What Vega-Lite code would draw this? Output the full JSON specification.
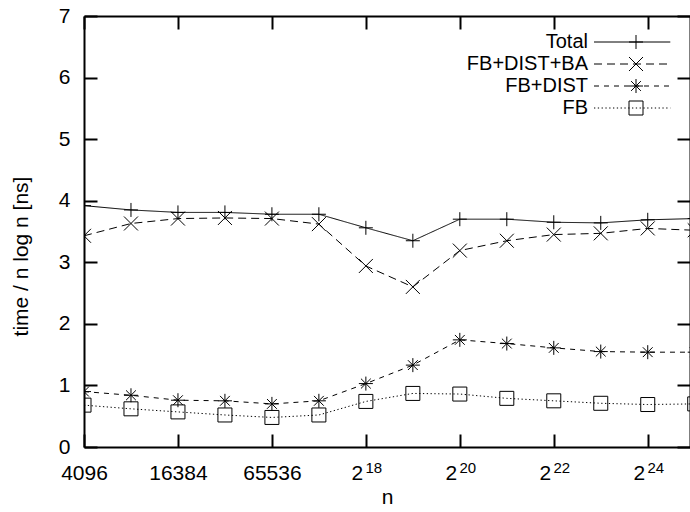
{
  "$schema": "https://vega.github.io/schema/vega-lite/v6.json",
  "width": 606,
  "height": 431,
  "autosize": {"type": "none"},
  "padding": {"left": 84, "top": 16, "right": 0, "bottom": 65},
  "background": "white",
  "config": {
    "font": "Liberation Sans",
    "view": {"stroke": null},
    "axis": {
      "grid": false,
      "domainColor": "black",
      "tickColor": "black",
      "labelColor": "black",
      "titleColor": "black",
      "domainWidth": 2,
      "tickWidth": 2,
      "labelFontSize": 21,
      "titleFontSize": 21,
      "titleFontWeight": "normal",
      "labelOverlap": false
    }
  },
  "data": {
    "values": [
      {"n": 4096, "series": "Total", "t": 3.92},
      {"n": 8192, "series": "Total", "t": 3.85},
      {"n": 16384, "series": "Total", "t": 3.81},
      {"n": 32768, "series": "Total", "t": 3.81},
      {"n": 65536, "series": "Total", "t": 3.78},
      {"n": 131072, "series": "Total", "t": 3.78},
      {"n": 262144, "series": "Total", "t": 3.56},
      {"n": 524288, "series": "Total", "t": 3.35},
      {"n": 1048576, "series": "Total", "t": 3.70},
      {"n": 2097152, "series": "Total", "t": 3.70},
      {"n": 4194304, "series": "Total", "t": 3.65},
      {"n": 8388608, "series": "Total", "t": 3.64},
      {"n": 16777216, "series": "Total", "t": 3.69},
      {"n": 33554432, "series": "Total", "t": 3.71},
      {"n": 4096, "series": "FB+DIST+BA", "t": 3.43},
      {"n": 8192, "series": "FB+DIST+BA", "t": 3.63},
      {"n": 16384, "series": "FB+DIST+BA", "t": 3.71},
      {"n": 32768, "series": "FB+DIST+BA", "t": 3.72},
      {"n": 65536, "series": "FB+DIST+BA", "t": 3.71},
      {"n": 131072, "series": "FB+DIST+BA", "t": 3.62},
      {"n": 262144, "series": "FB+DIST+BA", "t": 2.94},
      {"n": 524288, "series": "FB+DIST+BA", "t": 2.60},
      {"n": 1048576, "series": "FB+DIST+BA", "t": 3.19},
      {"n": 2097152, "series": "FB+DIST+BA", "t": 3.35},
      {"n": 4194304, "series": "FB+DIST+BA", "t": 3.45},
      {"n": 8388608, "series": "FB+DIST+BA", "t": 3.47},
      {"n": 16777216, "series": "FB+DIST+BA", "t": 3.55},
      {"n": 33554432, "series": "FB+DIST+BA", "t": 3.52},
      {"n": 4096, "series": "FB+DIST", "t": 0.90},
      {"n": 8192, "series": "FB+DIST", "t": 0.84},
      {"n": 16384, "series": "FB+DIST", "t": 0.76},
      {"n": 32768, "series": "FB+DIST", "t": 0.75},
      {"n": 65536, "series": "FB+DIST", "t": 0.70},
      {"n": 131072, "series": "FB+DIST", "t": 0.75},
      {"n": 262144, "series": "FB+DIST", "t": 1.03},
      {"n": 524288, "series": "FB+DIST", "t": 1.33},
      {"n": 1048576, "series": "FB+DIST", "t": 1.74},
      {"n": 2097152, "series": "FB+DIST", "t": 1.68},
      {"n": 4194304, "series": "FB+DIST", "t": 1.61},
      {"n": 8388608, "series": "FB+DIST", "t": 1.55},
      {"n": 16777216, "series": "FB+DIST", "t": 1.54},
      {"n": 33554432, "series": "FB+DIST", "t": 1.54},
      {"n": 4096, "series": "FB", "t": 0.68},
      {"n": 8192, "series": "FB", "t": 0.62},
      {"n": 16384, "series": "FB", "t": 0.57},
      {"n": 32768, "series": "FB", "t": 0.52},
      {"n": 65536, "series": "FB", "t": 0.48},
      {"n": 131072, "series": "FB", "t": 0.52},
      {"n": 262144, "series": "FB", "t": 0.74},
      {"n": 524288, "series": "FB", "t": 0.87},
      {"n": 1048576, "series": "FB", "t": 0.86},
      {"n": 2097152, "series": "FB", "t": 0.79},
      {"n": 4194304, "series": "FB", "t": 0.75},
      {"n": 8388608, "series": "FB", "t": 0.71},
      {"n": 16777216, "series": "FB", "t": 0.69},
      {"n": 33554432, "series": "FB", "t": 0.70}
    ]
  },
  "layer": [
    {
      "mark": {"type": "line", "clip": true, "color": "black", "strokeWidth": 1},
      "encoding": {
        "x": {
          "field": "n",
          "type": "quantitative",
          "scale": {"type": "log", "base": 2, "domain": [4096, 31300000], "nice": false},
          "axis": {
            "orient": "bottom",
            "values": [4096, 16384, 65536, 262144, 1048576, 4194304, 16777216],
            "labelExpr": "datum.value > 100000 ? '2' : format(datum.value, 'd')",
            "labelOffset": {"condition": {"test": "datum.value > 100000", "value": -9}, "value": 0},
            "tickSize": -13,
            "labelPadding": 28,
            "labelFlush": false,
            "title": "n",
            "titleY": 56,
            "titleBaseline": "alphabetic"
          }
        },
        "y": {
          "field": "t",
          "type": "quantitative",
          "scale": {"domain": [0, 7], "nice": false, "zero": false},
          "axis": {
            "orient": "left",
            "values": [0, 1, 2, 3, 4, 5, 6, 7],
            "tickSize": -13,
            "labelPadding": 27,
            "title": "time / n log n [ns]",
            "titleX": -57,
            "titleY": 240,
            "titleAngle": -90,
            "titleAlign": "center",
            "titleBaseline": "alphabetic"
          }
        },
        "strokeDash": {
          "field": "series",
          "type": "nominal",
          "sort": "descending",
          "scale": {"range": [[1, 0], [8, 5], [5, 5], [1.3, 2.5]]},
          "legend": {
            "orient": "none",
            "legendX": 542,
            "legendY": 16,
            "title": null,
            "symbolType": "M-6,0H4.9",
            "symbolSize": 196,
            "symbolStrokeColor": "black",
            "symbolStrokeWidth": 1,
            "labelAlign": "right",
            "labelOffset": -58,
            "labelFontSize": 20,
            "labelColor": "black",
            "padding": 0,
            "rowPadding": 2
          }
        }
      }
    },
    {
      "mark": {"type": "point", "clip": true, "filled": false, "color": "black", "opacity": 1, "strokeWidth": 1, "size": 196},
      "encoding": {
        "x": {
          "field": "n",
          "type": "quantitative",
          "axis": {"orient": "top", "labels": false, "title": null, "tickSize": -13, "values": [4096, 16384, 65536, 262144, 1048576, 4194304, 16777216]}
        },
        "y": {
          "field": "t",
          "type": "quantitative",
          "axis": {"orient": "right", "labels": false, "title": null, "tickSize": -13, "values": [0, 1, 2, 3, 4, 5, 6, 7]}
        },
        "shape": {
          "field": "series",
          "type": "nominal",
          "scale": {
            "domain": ["Total", "FB+DIST+BA", "FB+DIST", "FB"],
            "range": [
              "M-1,0H1M0,-1V1",
              "M-1,-1L1,1M-1,1L1,-1",
              "M-1,0H1M0,-1V1M-0.7,-0.7L0.7,0.7M-0.7,0.7L0.7,-0.7",
              "square"
            ]
          },
          "legend": {
            "orient": "none",
            "legendX": 542,
            "legendY": 16,
            "title": null,
            "symbolSize": 196,
            "symbolStrokeColor": "black",
            "symbolFillColor": "transparent",
            "symbolStrokeWidth": 1,
            "symbolOpacity": 1,
            "labelOpacity": 0,
            "labelAlign": "right",
            "labelOffset": -58,
            "labelFontSize": 20,
            "padding": 0,
            "rowPadding": 2
          }
        }
      }
    },
    {
      "mark": {"type": "point", "opacity": 0},
      "encoding": {
        "x": {
          "field": "n",
          "type": "quantitative",
          "axis": {
            "orient": "bottom",
            "domain": false,
            "tickColor": "transparent",
            "tickSize": -13,
            "values": [262144, 1048576, 4194304, 16777216],
            "labelExpr": "datum.value == 262144 ? '18' : datum.value == 1048576 ? '20' : datum.value == 4194304 ? '22' : '24'",
            "labelFontSize": 15,
            "labelOffset": 7.5,
            "labelPadding": 26,
            "labelFlush": false,
            "title": null
          }
        },
        "y": {"field": "t", "type": "quantitative", "axis": null}
      }
    }
  ],
  "resolve": {"axis": {"x": "independent", "y": "independent"}}
}
